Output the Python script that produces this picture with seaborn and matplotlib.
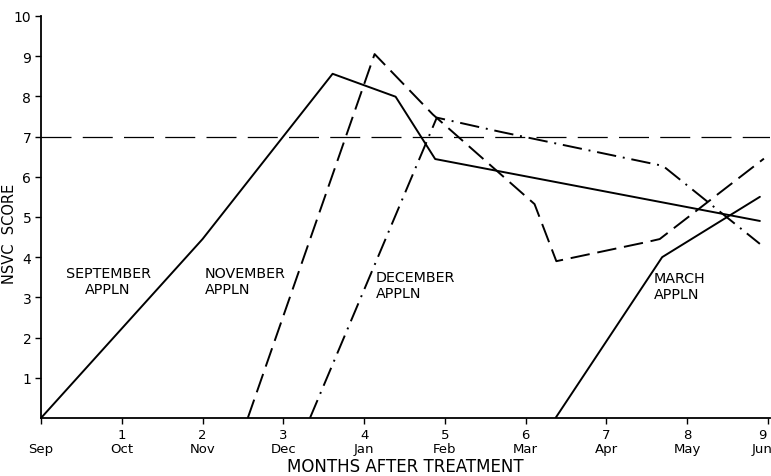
"""
NSVC score over months after treatment, by application month.
"""
import numpy as np
import pandas as pd
import matplotlib
matplotlib.use("Agg")
import matplotlib.pyplot as plt
import matplotlib.transforms as mtransforms
import seaborn as sns

# ── Data ──────────────────────────────────────────────────────
sep_x = [0.0, 2.0, 3.61, 4.39, 4.88, 8.9]
sep_y = [0.0, 4.45, 8.56, 7.99, 6.44, 4.9]

nov_x = [2.56, 4.13, 4.85, 6.11, 6.38, 7.51, 7.66, 8.95]
nov_y = [0.0, 9.05, 7.55, 5.32, 3.9, 4.38, 4.45, 6.45]

dec_x = [3.33, 4.9, 5.68, 7.7, 8.9]
dec_y = [0.0, 7.47, 7.12, 6.27, 4.33]

mar_x = [6.37, 7.69, 8.9]
mar_y = [0.0, 4.0, 5.5]

ref_level = 7.0

months = ["Sep", "Oct", "Nov", "Dec", "Jan", "Feb", "Mar", "Apr", "May", "Jun"]
y_ticks = [1, 2, 3, 4, 5, 6, 7, 8, 9, 10]

labels = {
    "SEPTEMBER\nAPPLN": (0.83, 3.4, "center"),
    "NOVEMBER\nAPPLN": (2.03, 3.4, "left"),
    "DECEMBER\nAPPLN": (4.14, 3.3, "left"),
    "MARCH\nAPPLN": (7.59, 3.28, "left"),
}

sns.set_style("ticks", {"text.color": "black", "axes.labelcolor": "black",
                        "xtick.color": "black", "ytick.color": "black",
                        "axes.edgecolor": "black"})
plt.rcParams["font.family"] = ["DejaVu Sans"]

fig = plt.figure(figsize=(7.71, 4.77), dpi=100)
ax = fig.add_axes([0.0532, 0.1216, 0.946, 0.843])

series = [
    (sep_x, sep_y, "-"),
    (nov_x, nov_y, (0, (10, 4))),
    (dec_x, dec_y, (0, (10, 3.5, 1, 3.5))),
    (mar_x, mar_y, "-"),
]
for xs, ys, ls in series:
    df = pd.DataFrame({"x": xs, "y": ys})
    sns.lineplot(data=df, x="x", y="y", sort=False, estimator=None,
                 color="black", lw=1.4, linestyle=ls, ax=ax)

ax.axhline(ref_level, color="black", lw=0.9, linestyle=(0, (24, 9)))

for text, (tx, ty, ha) in labels.items():
    ax.text(tx, ty, text, ha=ha, va="center", fontsize=10.3,
            multialignment="center" if ha == "center" else "left")

ax.set_xlim(0, 9.03)
ax.set_ylim(0, 10)
ax.set_xticks(np.arange(10))
ax.set_xticklabels(["\nSep"] + [f"{i}\n{m}" for i, m in enumerate(months) if i > 0],
                   fontsize=9.5, linespacing=1.15)
ax.set_yticks(y_ticks)
ax.set_yticklabels([str(t) for t in y_ticks], fontsize=10)
ax.tick_params(length=4, width=1, pad=3)

# keep the last month label inside the canvas
last = ax.get_xticklabels()[-1]
last.set_transform(last.get_transform() +
                   mtransforms.ScaledTranslation(-6 / 100, 0, fig.dpi_scale_trans))

ax.set_xlabel("MONTHS AFTER TREATMENT", fontsize=12, labelpad=1)
ax.set_ylabel("NSVC  SCORE", fontsize=10.5)
ax.yaxis.set_label_coords(-0.033, 0.46)

sns.despine(ax=ax)
for sp in ("left", "bottom"):
    ax.spines[sp].set_linewidth(1.3)

plt.savefig("out.png", dpi=100, facecolor="white")
plt.close()
